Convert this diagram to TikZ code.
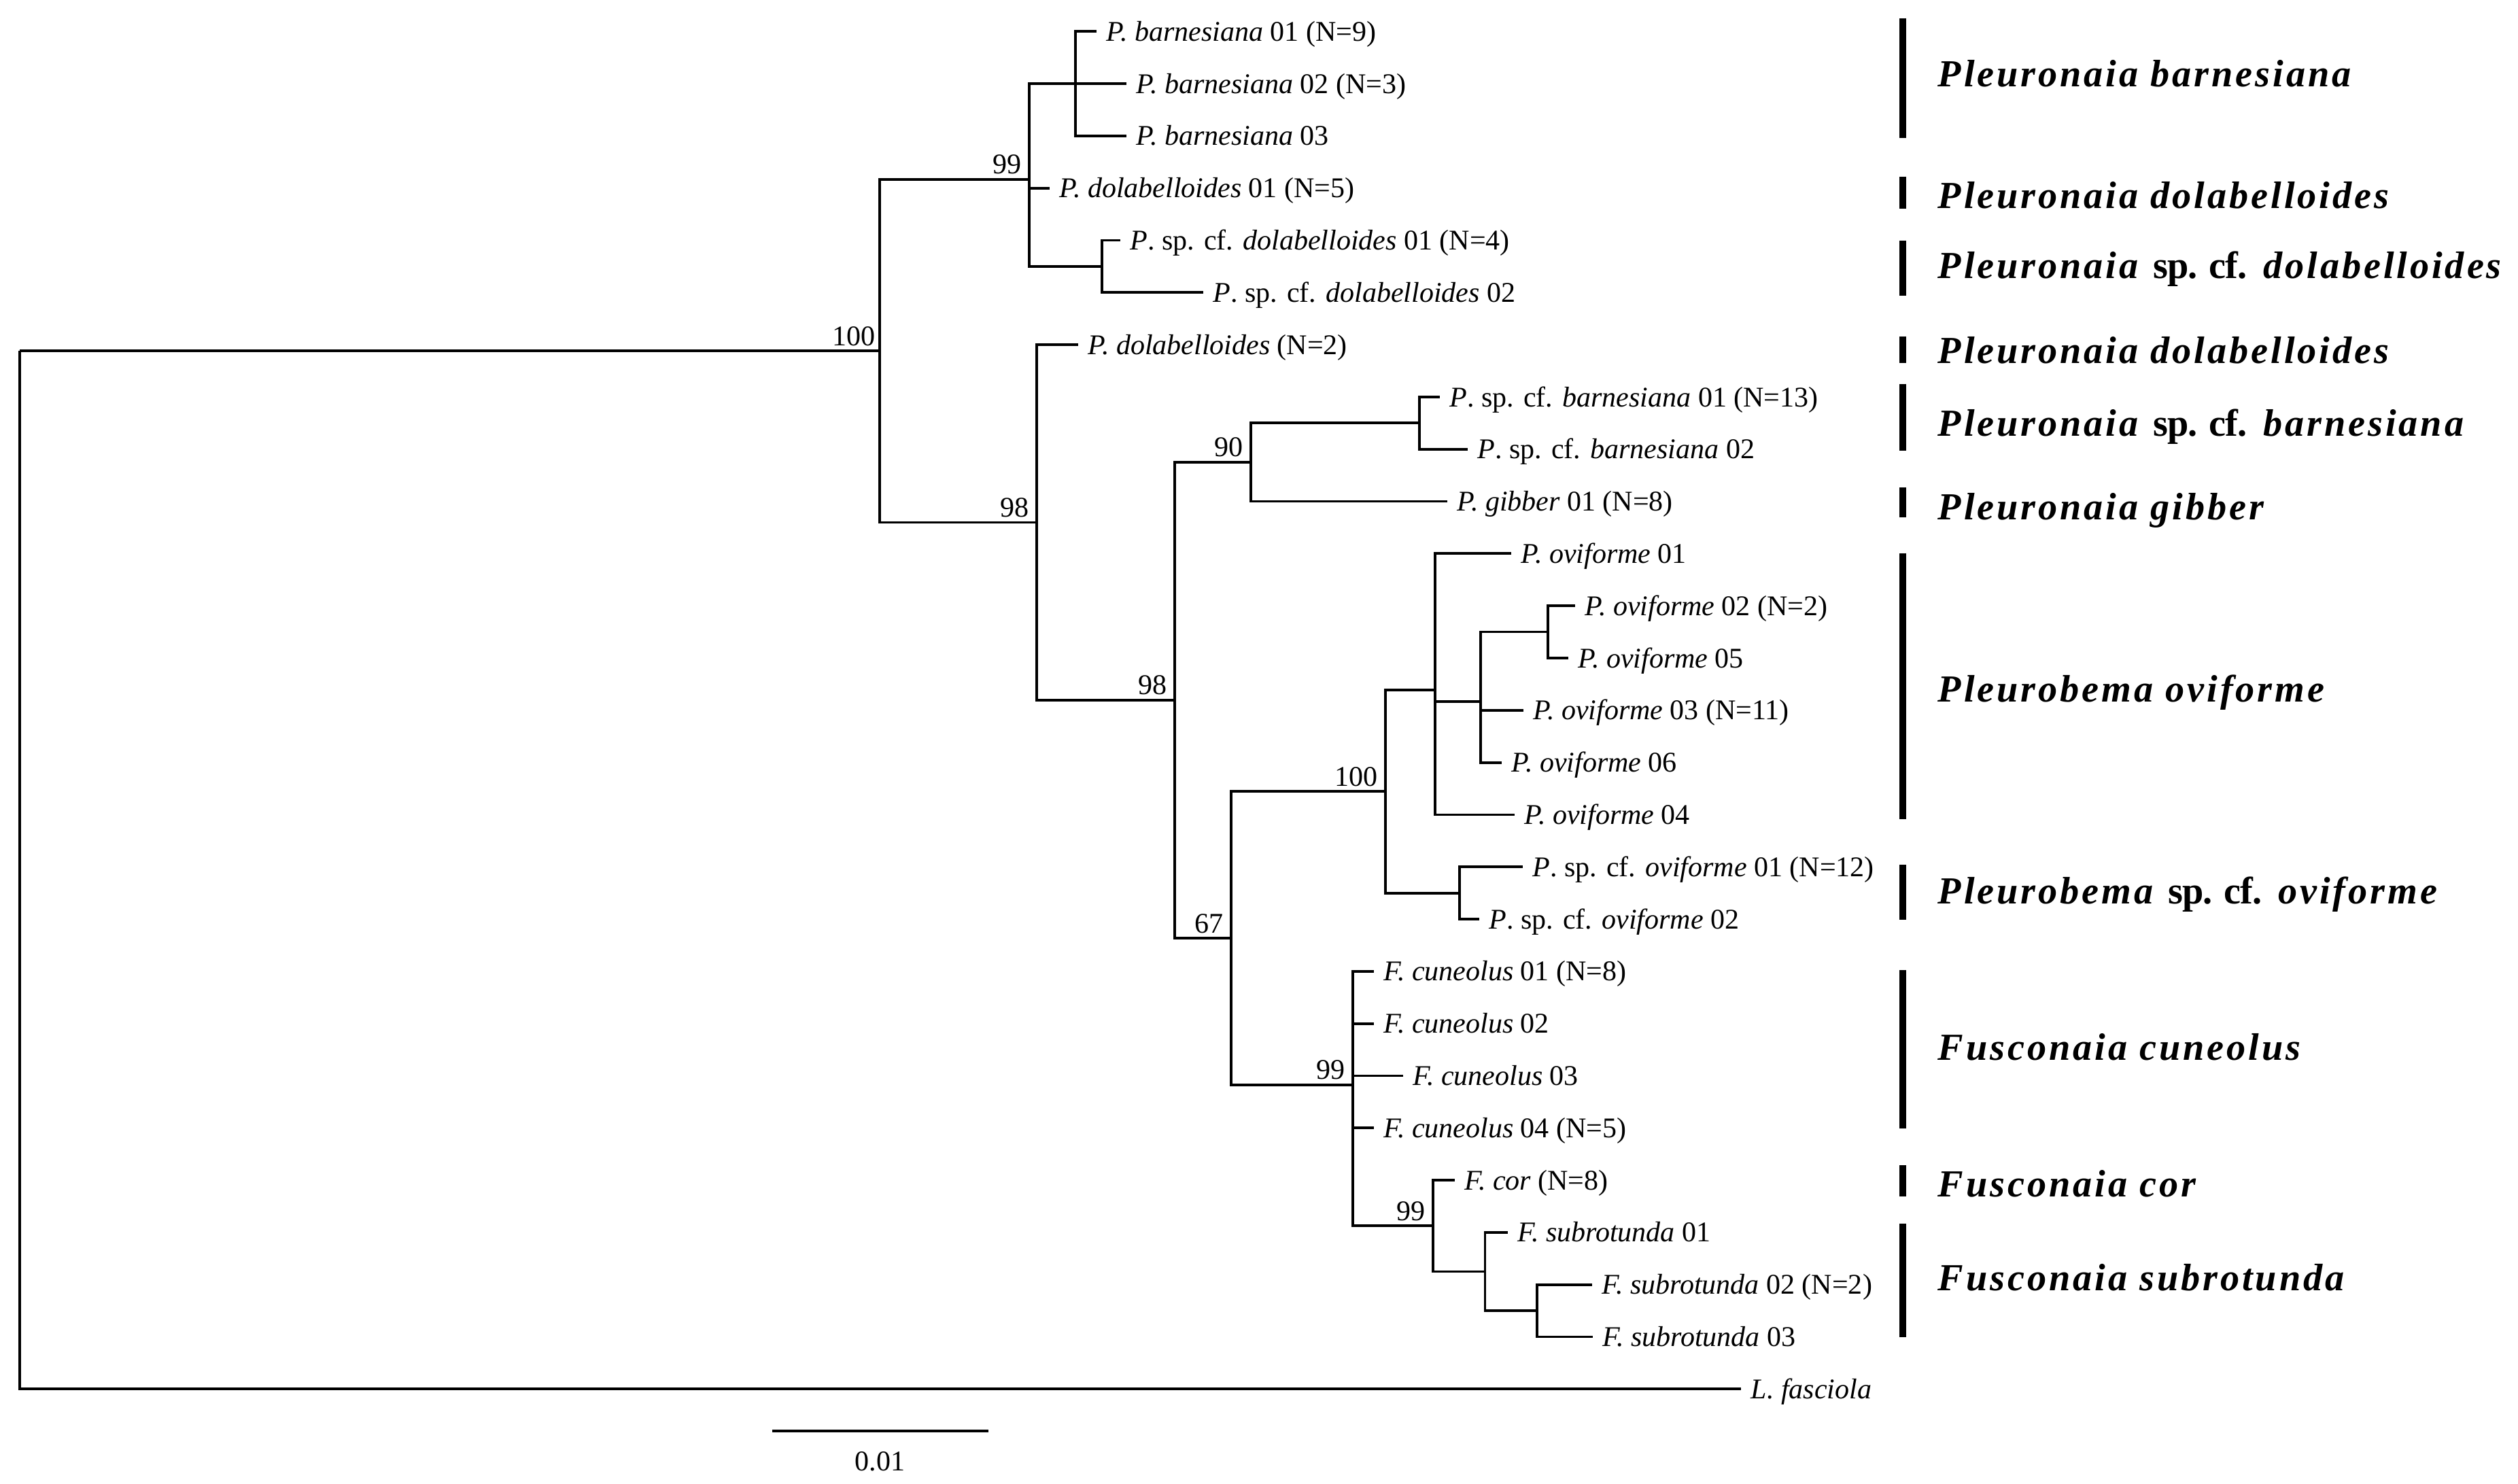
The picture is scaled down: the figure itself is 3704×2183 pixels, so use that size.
\documentclass[tikz,border=0pt]{standalone}
\usepackage{fontspec}
\setmainfont{Liberation Serif}
\newfontfamily\cladefont[LetterSpace=7]{Liberation Serif}
\newfontfamily\cladeupfont[LetterSpace=-2]{Liberation Serif}

\tikzset{
  branch/.style={line width=0.038cm},
  taxon/.style={anchor=west, inner xsep=0.14cm, inner ysep=0pt,
    text height=0.28cm, text depth=0pt, font=\fontsize{11.95}{14}\selectfont},
  boot/.style={anchor=base east, inner sep=0pt, xshift=-0.11cm, yshift=0.08cm,
    font=\fontsize{11.95}{14}\selectfont},
  clade/.style={anchor=base west, inner sep=0pt,
    font=\cladefont\fontsize{16}{19}\selectfont\bfseries},
  cladebar/.style={line width=0.1cm},
}

\begin{document}
\begin{tikzpicture}[x=0.01cm, y=-0.01cm]

  \useasboundingbox (0,0) rectangle (3704,2183);

  % inner nodes
  \coordinate (root) at (29,516.3);
  \coordinate (n100) at (1294,516.3);
  \coordinate (n99a) at (1514,264);
  \coordinate (nbar) at (1582,123.2);
  \coordinate (ncfdol) at (1621,392);
  \coordinate (n98a) at (1525,768.6);
  \coordinate (n98b) at (1728,1030);
  \coordinate (n90) at (1840,680);
  \coordinate (ncfbar) at (2088,622.4);
  \coordinate (n67) at (1811,1380);
  \coordinate (n100b) at (2038,1164.3);
  \coordinate (novi) at (2111,1014.9);
  \coordinate (novia) at (2178,1032);
  \coordinate (novib) at (2277,929.6);
  \coordinate (ncfovi) at (2147,1313.6);
  \coordinate (n99b) at (1990,1595.8);
  \coordinate (n99c) at (2108,1803.2);
  \coordinate (nsub) at (2184.5,1870.4);
  \coordinate (nsubb) at (2261,1928);

  % tips
  \node[taxon] (bar01) at (1613,46.4) {\textit{P. barnesiana} 01 (N=9)};
  \node[taxon] (bar02) at (1657,123.2) {\textit{P. barnesiana} 02 (N=3)};
  \node[taxon] (bar03) at (1657,200) {\textit{P. barnesiana} 03};
  \node[taxon] (dol01) at (1544,276.8) {\textit{P. dolabelloides} 01 (N=5)};
  \node[taxon] (cfdol01) at (1648,353.6) {\textit{P}. sp. cf. \textit{dolabelloides} 01 (N=4)};
  \node[taxon] (cfdol02) at (1770,430.4) {\textit{P}. sp. cf. \textit{dolabelloides} 02};
  \node[taxon] (dol02) at (1586,507.2) {\textit{P. dolabelloides} (N=2)};
  \node[taxon] (cfbar01) at (2118,584) {\textit{P}. sp. cf. \textit{barnesiana} 01 (N=13)};
  \node[taxon] (cfbar02) at (2159,660.8) {\textit{P}. sp. cf. \textit{barnesiana} 02};
  \node[taxon] (gib01) at (2129,737.6) {\textit{P. gibber} 01 (N=8)};
  \node[taxon] (ovi01) at (2223,814.4) {\textit{P. oviforme} 01};
  \node[taxon] (ovi02) at (2317,891.2) {\textit{P. oviforme} 02 (N=2)};
  \node[taxon] (ovi05) at (2307,968) {\textit{P. oviforme} 05};
  \node[taxon] (ovi03) at (2241,1044.8) {\textit{P. oviforme} 03 (N=11)};
  \node[taxon] (ovi06) at (2209,1121.6) {\textit{P. oviforme} 06};
  \node[taxon] (ovi04) at (2228,1198.4) {\textit{P. oviforme} 04};
  \node[taxon] (cfovi01) at (2240,1275.2) {\textit{P}. sp. cf. \textit{oviforme} 01 (N=12)};
  \node[taxon] (cfovi02) at (2176,1352) {\textit{P}. sp. cf. \textit{oviforme} 02};
  \node[taxon] (cun01) at (2021,1428.8) {\textit{F. cuneolus} 01 (N=8)};
  \node[taxon] (cun02) at (2021,1505.6) {\textit{F. cuneolus} 02};
  \node[taxon] (cun03) at (2064,1582.4) {\textit{F. cuneolus} 03};
  \node[taxon] (cun04) at (2021,1659.2) {\textit{F. cuneolus} 04 (N=5)};
  \node[taxon] (cor) at (2140,1736) {\textit{F. cor} (N=8)};
  \node[taxon] (sub01) at (2218,1812.8) {\textit{F. subrotunda} 01};
  \node[taxon] (sub02) at (2342,1889.6) {\textit{F. subrotunda} 02 (N=2)};
  \node[taxon] (sub03) at (2343,1966.4) {\textit{F. subrotunda} 03};
  \node[taxon] (lfas) at (2561,2043.2) {\textit{L. fasciola}};

  % branches
  \draw[branch]
   (root) |- (n100) (root) |- (lfas.west)
   (n100) |- (n99a) (n100) |- (n98a)
   (n99a) |- (nbar) (n99a) |- (dol01.west) (n99a) |- (ncfdol)
   (nbar) |- (bar01.west) (nbar) |- (bar02.west) (nbar) |- (bar03.west)
   (ncfdol) |- (cfdol01.west) (ncfdol) |- (cfdol02.west)
   (n98a) |- (dol02.west) (n98a) |- (n98b)
   (n98b) |- (n90) (n98b) |- (n67)
   (n90) |- (ncfbar) (n90) |- (gib01.west)
   (ncfbar) |- (cfbar01.west) (ncfbar) |- (cfbar02.west)
   (n67) |- (n100b) (n67) |- (n99b)
   (n100b) |- (novi) (n100b) |- (ncfovi)
   (novi) |- (ovi01.west) (novi) |- (novia) (novi) |- (ovi04.west)
   (novia) |- (novib) (novia) |- (ovi03.west) (novia) |- (ovi06.west)
   (novib) |- (ovi02.west) (novib) |- (ovi05.west)
   (ncfovi) |- (cfovi01.west) (ncfovi) |- (cfovi02.west)
   (n99b) |- (cun01.west) (n99b) |- (cun02.west) (n99b) |- (cun03.west)
   (n99b) |- (cun04.west) (n99b) |- (n99c)
   (n99c) |- (cor.west) (n99c) |- (nsub)
   (nsub) |- (sub01.west) (nsub) |- (nsubb)
   (nsubb) |- (sub02.west) (nsubb) |- (sub03.west);

  % bootstrap values
  \node[boot, xshift=0.05cm] (b100a) at (n100) {100};
  \node[boot] (b99a) at (n99a) {99};
  \node[boot] (b98a) at (n98a) {98};
  \node[boot] (b98b) at (n98b) {98};
  \node[boot] (b90) at (n90) {90};
  \node[boot] (b67) at (n67) {67};
  \node[boot] (b100b) at (n100b) {100};
  \node[boot] (b99b) at (n99b) {99};
  \node[boot] (b99c) at (n99c) {99};

  % clade bars and names
  \draw[cladebar] (2799,26.7) -- (2799,203.4);
  \draw[cladebar] (2799,259.6) -- (2799,306.6);
  \draw[cladebar] (2799,354) -- (2799,435);
  \draw[cladebar] (2799,494.6) -- (2799,534.5);
  \draw[cladebar] (2799,564.7) -- (2799,663);
  \draw[cladebar] (2799,717) -- (2799,761);
  \draw[cladebar] (2799,813.7) -- (2799,1205);
  \draw[cladebar] (2799,1272) -- (2799,1352.6);
  \draw[cladebar] (2799,1427) -- (2799,1660);
  \draw[cladebar] (2799,1714) -- (2799,1760);
  \draw[cladebar] (2799,1800) -- (2799,1967);

  \node[clade] (cbar) at (2850,127.7) {\textit{Pleuronaia barnesiana}};
  \node[clade] (cdol) at (2850,306.6) {\textit{Pleuronaia dolabelloides}};
  \node[clade] (ccfdol) at (2850,410) {\textit{Pleuronaia} {\cladeupfont sp. cf.} \textit{dolabelloides}};
  \node[clade] (cdol2) at (2850,534.5) {\textit{Pleuronaia dolabelloides}};
  \node[clade] (ccfbar) at (2850,642) {\textit{Pleuronaia} {\cladeupfont sp. cf.} \textit{barnesiana}};
  \node[clade] (cgib) at (2850,765) {\textit{Pleuronaia gibber}};
  \node[clade] (covi) at (2850,1033) {\textit{Pleurobema oviforme}};
  \node[clade] (ccfovi) at (2850,1329.6) {\textit{Pleurobema} {\cladeupfont sp. cf.} \textit{oviforme}};
  \node[clade] (ccun) at (2850,1559) {\textit{Fusconaia cuneolus}};
  \node[clade] (ccor) at (2850,1760) {\textit{Fusconaia cor}};
  \node[clade] (csub) at (2850,1898) {\textit{Fusconaia subrotunda}};

  % scale
  \coordinate (sbleft) at (1135.5,2105);
  \coordinate (sbright) at (1453.5,2105);
  \draw[branch] (sbleft) -- (sbright);
  \node[anchor=base, inner sep=0pt, font=\fontsize{11.95}{14}\selectfont] (sbtext) at (1294.5,2163) {0.01};

\end{tikzpicture}
\end{document}
